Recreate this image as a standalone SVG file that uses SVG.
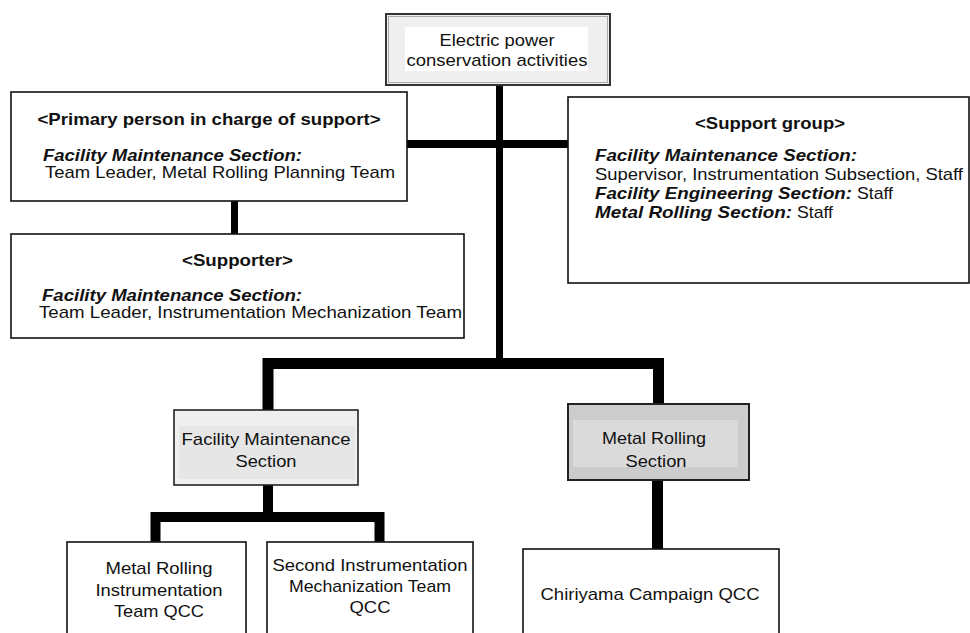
<svg xmlns="http://www.w3.org/2000/svg" width="970" height="633" viewBox="0 0 970 633">
<style>
.box{fill:#fff;stroke:#111;stroke-width:1.6}
.t{font-family:"Liberation Sans",Arial,sans-serif;font-size:17px;fill:#111}
.s{font-size:16px}
.b{font-weight:bold}
.bi{font-weight:bold;font-style:italic}
.m{text-anchor:middle}
.c{fill:none;stroke:#000;stroke-linejoin:miter}
</style>
<rect width="970" height="633" fill="#fff"/>
<g id="connectors">
<path class="c" d="M499.5,85 V364" stroke-width="7"/>
<path class="c" d="M407,144 H568" stroke-width="8"/>
<path class="c" d="M234.5,201 V234" stroke-width="7"/>
<path class="c" d="M268,410 V363.5 H658.5 V404" stroke-width="11"/>
<path class="c" d="M268,485 V517" stroke-width="10"/>
<path class="c" d="M155.5,542 V517 H379.5 V542" stroke-width="10"/>
<path class="c" d="M657.5,480 V549" stroke-width="11"/>
</g>
<g id="top">
<rect x="386" y="14" width="224" height="71" fill="#efefef" stroke="#333" stroke-width="2"/>
<rect x="388.5" y="16.5" width="219" height="66" fill="none" stroke="#aaa" stroke-width="1"/>
<rect x="405" y="27" width="183" height="44" fill="#fff"/>
<text class="t m" x="497" y="46" textLength="115" lengthAdjust="spacingAndGlyphs">Electric power</text>
<text class="t m" x="497" y="66" textLength="181" lengthAdjust="spacingAndGlyphs">conservation activities</text>
</g>
<g id="primary">
<rect class="box" x="11" y="92" width="396" height="109"/>
<text class="t b m" x="209" y="125" textLength="343" lengthAdjust="spacingAndGlyphs">&lt;Primary person in charge of support&gt;</text>
<text class="t s bi" x="43" y="161" textLength="259" lengthAdjust="spacingAndGlyphs">Facility Maintenance Section:</text>
<text class="t" x="45" y="178" textLength="350" lengthAdjust="spacingAndGlyphs">Team Leader, Metal Rolling Planning Team</text>
</g>
<g id="supporter">
<rect class="box" x="11" y="234" width="453" height="104"/>
<text class="t b m" x="237.5" y="266" textLength="111" lengthAdjust="spacingAndGlyphs">&lt;Supporter&gt;</text>
<text class="t s bi" x="42" y="301" textLength="260" lengthAdjust="spacingAndGlyphs">Facility Maintenance Section:</text>
<text class="t" x="39" y="318" textLength="423" lengthAdjust="spacingAndGlyphs">Team Leader, Instrumentation Mechanization Team</text>
</g>
<g id="support-group">
<rect class="box" x="568" y="97" width="401" height="186"/>
<text class="t b m" x="770" y="129" textLength="150" lengthAdjust="spacingAndGlyphs">&lt;Support group&gt;</text>
<text class="t s bi" x="595" y="161" textLength="262" lengthAdjust="spacingAndGlyphs">Facility Maintenance Section:</text>
<text class="t" x="595" y="180" textLength="368" lengthAdjust="spacingAndGlyphs">Supervisor, Instrumentation Subsection, Staff</text>
<text class="t bi" x="595" y="199" textLength="257" lengthAdjust="spacingAndGlyphs">Facility Engineering Section:</text>
<text class="t" x="857" y="199" textLength="36" lengthAdjust="spacingAndGlyphs">Staff</text>
<text class="t bi" x="595" y="218" textLength="197" lengthAdjust="spacingAndGlyphs">Metal Rolling Section:</text>
<text class="t" x="797" y="218" textLength="36" lengthAdjust="spacingAndGlyphs">Staff</text>
</g>
<g id="facility-maintenance">
<rect x="174" y="410" width="184" height="75" fill="#efefef" stroke="#222" stroke-width="1.6"/>
<rect x="179" y="426" width="176" height="53" fill="#e6e6e6"/>
<text class="t m" x="266" y="445" textLength="169" lengthAdjust="spacingAndGlyphs">Facility Maintenance</text>
<text class="t m" x="266" y="467" textLength="61" lengthAdjust="spacingAndGlyphs">Section</text>
</g>
<g id="metal-rolling">
<rect x="568" y="404" width="181" height="76" fill="#cccccc" stroke="#222" stroke-width="2"/>
<rect x="573" y="420" width="165" height="47" fill="#dadada"/>
<text class="t m" x="654" y="444" textLength="104" lengthAdjust="spacingAndGlyphs">Metal Rolling</text>
<text class="t m" x="656" y="467" textLength="61" lengthAdjust="spacingAndGlyphs">Section</text>
</g>
<g id="metal-rolling-instr-qcc">
<rect class="box" x="67" y="542" width="179" height="100"/>
<text class="t m" x="159" y="574" textLength="107" lengthAdjust="spacingAndGlyphs">Metal Rolling</text>
<text class="t m" x="159" y="596" textLength="127" lengthAdjust="spacingAndGlyphs">Instrumentation</text>
<text class="t m" x="159" y="617" textLength="90" lengthAdjust="spacingAndGlyphs">Team QCC</text>
</g>
<g id="second-instr-qcc">
<rect class="box" x="267" y="542" width="206" height="100"/>
<text class="t m" x="370" y="571" textLength="195" lengthAdjust="spacingAndGlyphs">Second Instrumentation</text>
<text class="t m" x="370" y="592" textLength="162" lengthAdjust="spacingAndGlyphs">Mechanization Team</text>
<text class="t m" x="370" y="613" textLength="41" lengthAdjust="spacingAndGlyphs">QCC</text>
</g>
<g id="chiriyama-qcc">
<rect class="box" x="523" y="549" width="256" height="93"/>
<text class="t m" x="650" y="600" textLength="219" lengthAdjust="spacingAndGlyphs">Chiriyama Campaign QCC</text>
</g>
</svg>
